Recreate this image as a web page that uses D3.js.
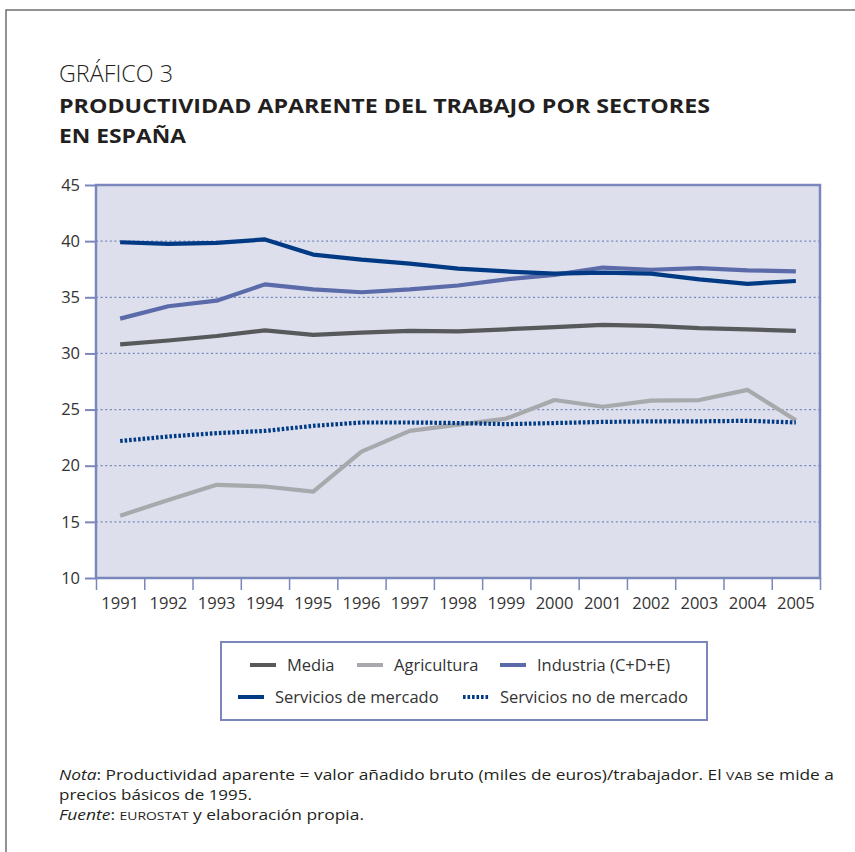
<!DOCTYPE html>
<html><head><meta charset="utf-8">
<script src="https://cdn.jsdelivr.net/npm/d3@7"></script>
<style>body{margin:0;background:#fff}svg{display:block}text{font-family:"Open Sans",sans-serif}</style>
</head><body>
<svg id="c" width="855" height="852"></svg>
<script>
const years = [1991,1992,1993,1994,1995,1996,1997,1998,1999,2000,2001,2002,2003,2004,2005];
const media = [30.8,31.15,31.55,32.05,31.65,31.85,32.0,31.97,32.15,32.35,32.55,32.45,32.25,32.15,32.0];
const agricultura = [15.55,16.95,18.3,18.15,17.7,21.25,23.1,23.65,24.2,25.85,25.25,25.8,25.85,26.75,24.05];
const industria = [33.1,34.2,34.7,36.15,35.7,35.45,35.7,36.05,36.6,37.0,37.65,37.45,37.6,37.4,37.3];
const serviciosMercado = [39.9,39.75,39.85,40.15,38.8,38.35,38.0,37.55,37.3,37.1,37.2,37.1,36.6,36.2,36.45];
const serviciosNoMercado = [22.2,22.6,22.9,23.1,23.55,23.85,23.85,23.8,23.7,23.8,23.9,23.95,23.95,24.0,23.85];
const yTicks = [10,15,20,25,30,35,40,45];
const seriesNames = ["Media","Agricultura","Industria (C+D+E)","Servicios de mercado","Servicios no de mercado"];

const colors = {media:"#58595b", agr:"#a7a9ac", ind:"#5b6aa8", sm:"#003a84", snm:"#003a84"};
const series = [
  {values:agricultura, color:colors.agr, dash:null},
  {values:serviciosNoMercado, color:colors.snm, dash:"2.6,1.9"},
  {values:media, color:colors.media, dash:null},
  {values:industria, color:colors.ind, dash:null},
  {values:serviciosMercado, color:colors.sm, dash:null}
];

const svg = d3.select("#c");
const axisCol = "#7b86bd";
// outer frame
svg.append("rect").attr("x",6).attr("y",10).attr("width",900).attr("height",900)
  .attr("fill","none").attr("stroke","#6d6e70").attr("stroke-width",1.5);

// titles
svg.append("text").attr("x",59).attr("y",81.5).attr("font-size",23.5).attr("font-weight",300)
  .attr("fill","#231f20").attr("textLength",114).attr("lengthAdjust","spacingAndGlyphs").text("GRÁFICO 3");
svg.append("text").attr("x",59).attr("y",113).attr("font-size",19.5).attr("font-weight",700)
  .attr("fill","#231f20").attr("textLength",651).attr("lengthAdjust","spacingAndGlyphs")
  .text("PRODUCTIVIDAD APARENTE DEL TRABAJO POR SECTORES");
svg.append("text").attr("x",59).attr("y",142.5).attr("font-size",19.5).attr("font-weight",700)
  .attr("fill","#231f20").attr("textLength",127).attr("lengthAdjust","spacingAndGlyphs")
  .text("EN ESPAÑA");

const L=96, R=820, T=185, B=578;
const x = d3.scaleBand().domain(years).range([L,R]).padding(0);
const xb = d3.scaleLinear().domain([years[0]-0.5, years[years.length-1]+0.5]).range([L,R]);
const y = d3.scaleLinear().domain([10,45]).range([B,T]);

svg.append("rect").attr("x",L).attr("y",T).attr("width",R-L).attr("height",B-T).attr("fill","#dde0ec");

// grid
svg.append("g").selectAll("line").data(yTicks.filter(v=>v>10 && v<45)).join("line")
  .attr("x1",L).attr("x2",R).attr("y1",d=>y(d)).attr("y2",d=>y(d))
  .attr("stroke",axisCol).attr("stroke-width",1.2).attr("stroke-dasharray","2,2.6");

// y axis
const ya = svg.append("g").attr("transform",`translate(${L},0)`)
  .call(d3.axisLeft(y).tickValues(yTicks).tickSize(11).tickPadding(5).tickFormat(d3.format("d")));
ya.select(".domain").remove();
ya.selectAll("line").attr("stroke",axisCol).attr("stroke-width",2);
ya.selectAll("text").attr("font-size",16.5).attr("fill","#333").attr("font-family","'Open Sans',sans-serif");

// x axis ticks at boundaries
const bnds = d3.range(years[0]-0.5, years[years.length-1]+1, 1);
const xa = svg.append("g").attr("transform",`translate(0,${B})`)
  .call(d3.axisBottom(xb).tickValues(bnds).tickSize(12).tickFormat(""));
xa.select(".domain").remove();
xa.selectAll("line").attr("stroke",axisCol).attr("stroke-width",1.5);
const xl = svg.append("g").attr("transform",`translate(0,${B})`)
  .call(d3.axisBottom(x).tickSize(0).tickPadding(19));
xl.select(".domain").remove();
xl.selectAll("text").attr("font-size",16.5).attr("fill","#333").attr("font-family","'Open Sans',sans-serif");

// plot border
svg.append("rect").attr("x",L).attr("y",T).attr("width",R-L).attr("height",B-T)
  .attr("fill","none").attr("stroke",axisCol).attr("stroke-width",2.5);

// lines
const line = d3.line().x((d,i)=>x(years[i])+x.bandwidth()/2).y(d=>y(d));
svg.append("g").selectAll("path").data(series).join("path")
  .attr("d",d=>line(d.values)).attr("fill","none").attr("stroke",d=>d.color)
  .attr("stroke-width",4.2).attr("stroke-dasharray",d=>d.dash)
  .attr("stroke-linejoin","round");

// legend
svg.append("rect").attr("x",221).attr("y",642).attr("width",486).attr("height",78)
  .attr("fill","#fff").attr("stroke",axisCol).attr("stroke-width",2);
const leg = [
  {name:seriesNames[0], color:colors.media, dash:null, sx:250, ty:665},
  {name:seriesNames[1], color:colors.agr, dash:null, sx:357, ty:665},
  {name:seriesNames[2], color:colors.ind, dash:null, sx:500, ty:665},
  {name:seriesNames[3], color:colors.sm, dash:null, sx:238, ty:697},
  {name:seriesNames[4], color:colors.snm, dash:"2.6,1.9", sx:463, ty:697}
];
const lg = svg.append("g").selectAll("g").data(leg).join("g");
lg.append("line").attr("x1",d=>d.sx).attr("x2",d=>d.sx+26).attr("y1",d=>d.ty).attr("y2",d=>d.ty)
  .attr("stroke",d=>d.color).attr("stroke-width",4).attr("stroke-dasharray",d=>d.dash);
lg.append("text").attr("x",d=>d.sx+37).attr("y",d=>d.ty+6).attr("font-size",16.5).attr("fill","#333")
  .text(d=>d.name);

// notes
const fs = 14;
const n1 = svg.append("text").attr("x",59).attr("y",780).attr("font-size",fs).attr("fill","#231f20")
  .attr("textLength",775).attr("lengthAdjust","spacingAndGlyphs");
n1.append("tspan").attr("font-style","italic").text("Nota");
n1.append("tspan").text(": Productividad aparente = valor añadido bruto (miles de euros)/trabajador. El ");
n1.append("tspan").attr("font-size",fs*0.8).text("VAB");
n1.append("tspan").text(" se mide a");
svg.append("text").attr("x",59).attr("y",800).attr("font-size",fs).attr("fill","#231f20")
  .attr("textLength",193).attr("lengthAdjust","spacingAndGlyphs").text("precios básicos de 1995.");
const n3 = svg.append("text").attr("x",59).attr("y",820).attr("font-size",fs).attr("fill","#231f20")
  .attr("textLength",305).attr("lengthAdjust","spacingAndGlyphs");
n3.append("tspan").attr("font-style","italic").text("Fuente");
n3.append("tspan").text(": ");
n3.append("tspan").attr("font-size",fs*0.8).text("EUROSTAT");
n3.append("tspan").text(" y elaboración propia.");
</script>
</body></html>
